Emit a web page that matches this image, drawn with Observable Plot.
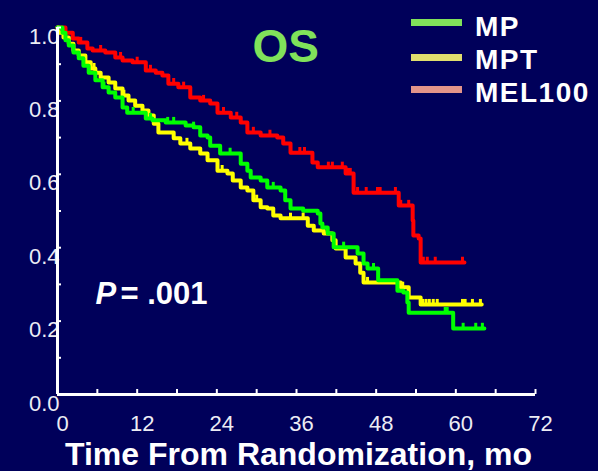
<!DOCTYPE html>
<html>
<head>
<meta charset="utf-8">
<script src="https://cdn.jsdelivr.net/npm/d3@7"></script>
<script src="https://cdn.jsdelivr.net/npm/@observablehq/plot@0.6"></script>
<style>
  html, body { margin: 0; padding: 0; background: #00005a; }
  #chart { position: relative; width: 598px; height: 471px; overflow: hidden;
           font-family: "Liberation Sans", Arial, sans-serif; background: #00005a; }
  #chart svg { position: absolute; left: 0; top: 0; }
  .key { position: absolute; left: 0; top: 0; width: 598px; height: 471px; pointer-events: none; }
  .swatch { position: absolute; left: 411px; width: 51px; height: 7px; }
  .keytext { position: absolute; left: 475px; font-size: 28px; line-height: 28px;
             font-weight: bold; color: #ffffff; letter-spacing: 1.5px; white-space: nowrap; }
</style>
</head>
<body>
<div id="chart"></div>
<script>
// Overall survival by arm: step times (months) and survival after each step
const mpTime = [0, 0.75, 1.2, 1.7, 2.4, 3.2, 3.9, 4.7, 5.7, 6.8, 7.7, 8.7, 9.8, 10.5, 13.3, 14.3, 16.3, 19.3, 20.5, 21.5, 22.6, 23.0, 24.5, 27.6, 28.6, 29.1, 30.6, 31.6, 33.6, 34.3, 35.1, 37.0, 39.2, 39.6, 39.9, 40.7, 41.6, 45.2, 46.1, 46.7, 48.3, 51.2, 52.1, 52.7, 52.9, 59.6, 64.3];
const mpSurv = [1, 0.986, 0.965, 0.951, 0.932, 0.916, 0.896, 0.877, 0.856, 0.837, 0.823, 0.809, 0.782, 0.768, 0.752, 0.747, 0.741, 0.733, 0.728, 0.706, 0.700, 0.678, 0.657, 0.629, 0.610, 0.591, 0.583, 0.564, 0.556, 0.529, 0.507, 0.501, 0.493, 0.466, 0.455, 0.439, 0.401, 0.384, 0.357, 0.343, 0.311, 0.283, 0.278, 0.251, 0.223, 0.180, 0.180];
const mpCens = [7, 11.4, 14, 16.6, 17.5, 20.5, 26, 32.5, 43.1, 47.6, 58.4, 58.7, 61.1, 63, 64];

const mptTime = [0, 0.15, 0.9, 1.7, 2.4, 3.2, 4.2, 5.0, 5.7, 6.5, 7.7, 8.7, 9.8, 10.7, 11.7, 12.8, 13.7, 14.5, 15.2, 17.5, 18.5, 20.0, 21.5, 22.6, 24.1, 25.6, 26.4, 27.6, 28.6, 29.5, 30.6, 31.6, 32.5, 33.6, 37.7, 38.6, 40.1, 41.4, 41.9, 43.4, 44.9, 45.6, 46.1, 51.7, 52.9, 54.7, 63.9];
const mptSurv = [1, 0.986, 0.973, 0.956, 0.937, 0.924, 0.905, 0.888, 0.877, 0.864, 0.850, 0.834, 0.815, 0.801, 0.787, 0.774, 0.760, 0.738, 0.714, 0.698, 0.684, 0.670, 0.657, 0.638, 0.610, 0.602, 0.583, 0.564, 0.556, 0.529, 0.510, 0.507, 0.488, 0.480, 0.460, 0.447, 0.439, 0.420, 0.398, 0.373, 0.357, 0.332, 0.305, 0.292, 0.264, 0.245, 0.245];
const mptCens = [5.5, 10, 19.5, 24.8, 30, 35.1, 37, 46.7, 52, 55, 55.5, 56, 56.6, 57.2, 61, 61.4, 62.5, 63.7];

const melTime = [0, 1.2, 2.3, 3.2, 4.5, 5.3, 7.2, 8.7, 9.8, 11.3, 13.3, 14.8, 15.8, 16.7, 18.2, 20.0, 21.5, 23.0, 24.1, 26.1, 27.6, 28.6, 30.6, 33.1, 34.0, 35.1, 38.4, 39.2, 43.4, 44.6, 51.4, 53.5, 53.6, 54.4, 54.7, 61.3];
const melSurv = [1, 0.986, 0.970, 0.959, 0.943, 0.937, 0.932, 0.918, 0.910, 0.905, 0.883, 0.877, 0.869, 0.847, 0.837, 0.809, 0.801, 0.793, 0.768, 0.755, 0.741, 0.714, 0.706, 0.700, 0.684, 0.659, 0.632, 0.619, 0.602, 0.550, 0.515, 0.474, 0.433, 0.425, 0.360, 0.360];
const melCens = [3.5, 6.5, 9.5, 12, 14, 17.5, 19, 22, 25, 27, 29.5, 32, 36.5, 37.2, 40.8, 41.4, 42.9, 43.7, 44.1, 45.2, 46.5, 48.2, 48.6, 50.9, 51.7, 52.9, 55.1, 55.7, 56.9, 61.0];

const armNames = ["MP", "MPT", "MEL100"];
const lineColors = ["#00ff00", "#ffff00", "#ff0000"];
const keyColors = ["#80e25a", "#e0de6e", "#e2948a"];

const xTickLabels = [0, 12, 24, 36, 48, 60, 72];
const xTickMarks = [0, 6, 12, 18, 24, 30, 36, 42, 48, 54, 60, 66, 72];
const yTickLabels = [0, 0.2, 0.4, 0.6, 0.8, 1.0];
const yTickMarks = [0, 0.1, 0.2, 0.3, 0.4, 0.5, 0.6, 0.7, 0.8, 0.9, 1.0];

const chartTitle = "OS";
const pLabel = "P";
const pValue = "= .001";
const xTitle = "Time From Randomization, mo";

const arms = [
  {name: "MP", time: mpTime, surv: mpSurv, cens: mpCens},
  {name: "MPT", time: mptTime, surv: mptSurv, cens: mptCens},
  {name: "MEL100", time: melTime, surv: melSurv, cens: melCens}
];

// survival of an arm at time t (right-continuous step function)
function survAt(arm, t) {
  let s = 1;
  for (let i = 0; i < arm.time.length; i++) if (arm.time[i] <= t) s = arm.surv[i];
  return s;
}

const curveRows = arms.flatMap(a => a.time.map((t, i) => ({arm: a.name, t, s: a.surv[i]})));
const censorRows = arms.flatMap(a => a.cens.map(t => ({arm: a.name, t, s: survAt(a, t)})));
// draw green last so it sits on top where curves overlap
const drawOrder = ["MEL100", "MPT", "MP"];
curveRows.sort((a, b) => drawOrder.indexOf(a.arm) - drawOrder.indexOf(b.arm));
censorRows.sort((a, b) => drawOrder.indexOf(a.arm) - drawOrder.indexOf(b.arm));

const labelColor = "#ececf4";

const plot = Plot.plot({
  width: 598,
  height: 471,
  marginLeft: 57,
  marginRight: 63,
  marginTop: 27,
  marginBottom: 77,
  style: {background: "transparent", color: labelColor, fontFamily: "'Liberation Sans', Arial, sans-serif"},
  x: {domain: [0, 72]},
  y: {domain: [0, 1]},
  color: {domain: armNames, range: lineColors},
  marks: [
    Plot.axisY(yTickLabels, {tickSize: 0, tickPadding: -2, dy: 9, fontSize: 22, tickFormat: d3.format(".1f"), label: null}),
    Plot.axisX(xTickLabels, {tickSize: 0, tickPadding: 21, dx: 5, fontSize: 22, tickFormat: d => String(d), label: null}),
    Plot.line(curveRows, {x: "t", y: "s", z: "arm", stroke: "arm", strokeWidth: 4, curve: "step-after"}),
    Plot.ruleX(censorRows, {x: "t", y1: "s", y2: d => d.s + 0.014, stroke: "arm", strokeWidth: 3}),
    Plot.axisY(yTickMarks, {tickSize: -4, tickFormat: () => "", stroke: "white", strokeWidth: 2, label: null}),
    Plot.axisX(xTickMarks, {tickSize: -5, tickFormat: () => "", stroke: "white", strokeWidth: 2, label: null}),
    Plot.ruleX([0], {stroke: "white", strokeWidth: 3}),
    Plot.ruleY([0], {stroke: "white", strokeWidth: 3}),
    Plot.text([chartTitle], {frameAnchor: "top-left", dx: 195, dy: 2, textAnchor: "start", fontSize: 46, fontWeight: "bold", fill: "#80e25a"}),
    Plot.text([pLabel], {frameAnchor: "top-left", dx: 38, dy: 254, textAnchor: "start", fontSize: 31, fontWeight: "bold", fontStyle: "italic", fill: "white"}),
    Plot.text([pValue], {frameAnchor: "top-left", dx: 63, dy: 254, textAnchor: "start", fontSize: 31, fontWeight: "bold", fill: "white"}),
    Plot.text([xTitle], {frameAnchor: "bottom", dx: 2, dy: 70, fontSize: 32, fontWeight: "bold", fill: "white"})
  ]
});

const chart = document.getElementById("chart");
chart.appendChild(plot);

// legend
const key = document.createElement("div");
key.className = "key";
const keyTops = [18.5, 53.5, 85.5];
const keyTextTops = [13.3, 46.3, 79.3];
armNames.forEach((name, i) => {
  const sw = document.createElement("div");
  sw.className = "swatch";
  sw.style.top = keyTops[i] + "px";
  sw.style.background = keyColors[i];
  key.appendChild(sw);
  const tx = document.createElement("div");
  tx.className = "keytext";
  tx.style.top = keyTextTops[i] + "px";
  tx.textContent = name;
  key.appendChild(tx);
});
chart.appendChild(key);
</script>
</body>
</html>
